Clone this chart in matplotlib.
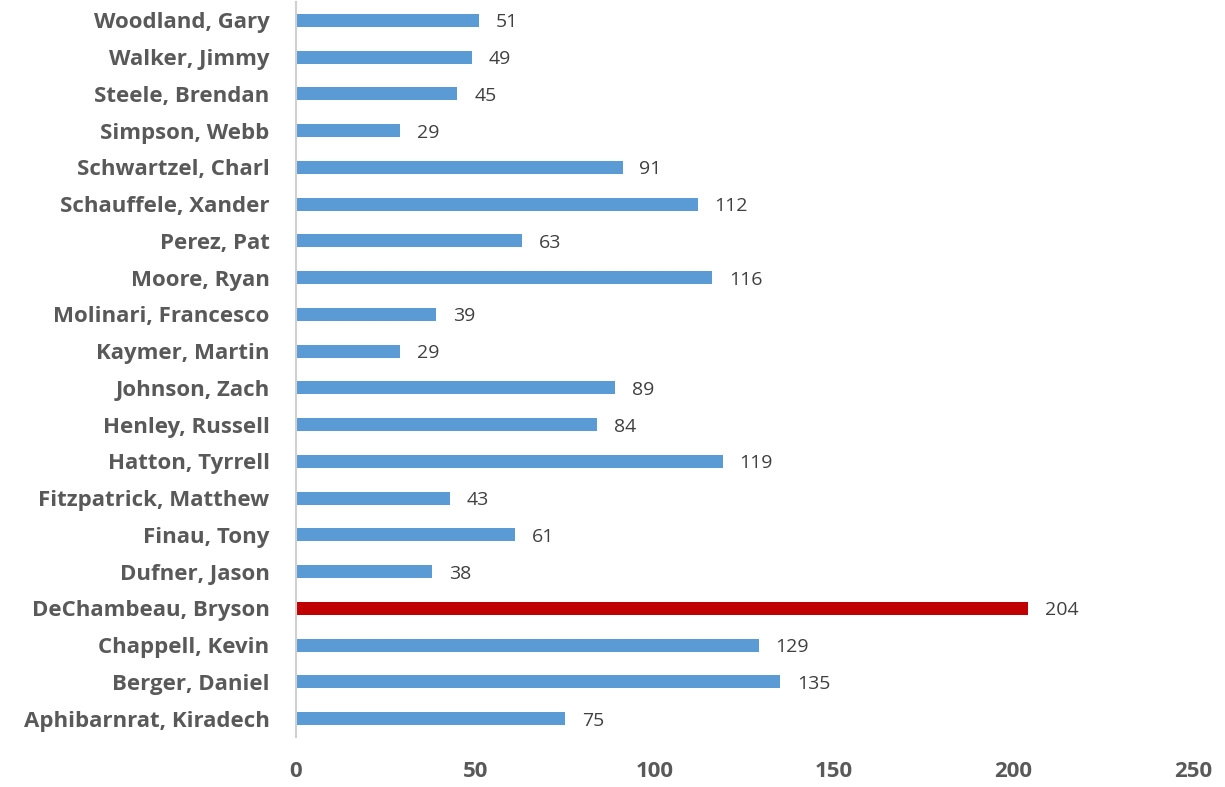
import matplotlib
matplotlib.use("Agg")
import matplotlib.pyplot as plt

names = ["Aphibarnrat, Kiradech", "Berger, Daniel", "Chappell, Kevin", "DeChambeau, Bryson",
         "Dufner, Jason", "Finau, Tony", "Fitzpatrick, Matthew", "Hatton, Tyrrell",
         "Henley, Russell", "Johnson, Zach", "Kaymer, Martin", "Molinari, Francesco",
         "Moore, Ryan", "Perez, Pat", "Schauffele, Xander", "Schwartzel, Charl",
         "Simpson, Webb", "Steele, Brendan", "Walker, Jimmy", "Woodland, Gary"]
values = [75, 135, 129, 204, 38, 61, 43, 119, 84, 89, 29, 39, 116, 63, 112, 91, 29, 45, 49, 51]
highlight = "DeChambeau, Bryson"
xticks = [0, 50, 100, 150, 200, 250]

fig = plt.figure(figsize=(12.25, 7.87), dpi=100)
ax = fig.add_axes([296/1225, 1-737/787, (1193-296)/1225, 735/787])

colors = ["#C00000" if n == highlight else "#5B9BD5" for n in names]
y = list(range(len(names)))
ax.barh(y, values, height=0.36, color=colors, zorder=2)
for yi, v in zip(y, values):
    ax.annotate(str(v), xy=(v, yi), xytext=(12, -1.5), textcoords="offset points",
                va="center", ha="left", fontsize=14, family="Open Sans", color="#404040")

ax.set_ylim(-0.5, len(names) - 0.5)
ax.set_xlim(0, 250)
ax.set_yticks(y)
ax.set_yticklabels(names, fontsize=16, fontweight="bold", family="Open Sans", color="#595959")
ax.set_xticks(xticks)
ax.set_xticklabels([str(t) for t in xticks], fontsize=16, fontweight="bold", family="Open Sans", color="#595959")
ax.tick_params(axis="both", length=0)
ax.tick_params(axis="y", pad=19)
ax.tick_params(axis="x", pad=17)
for s in ["top", "right", "bottom"]:
    ax.spines[s].set_visible(False)
ax.spines["left"].set_color("#D0D0D0")
ax.spines["left"].set_linewidth(1.5)

fig.savefig("out.png", dpi=100)
